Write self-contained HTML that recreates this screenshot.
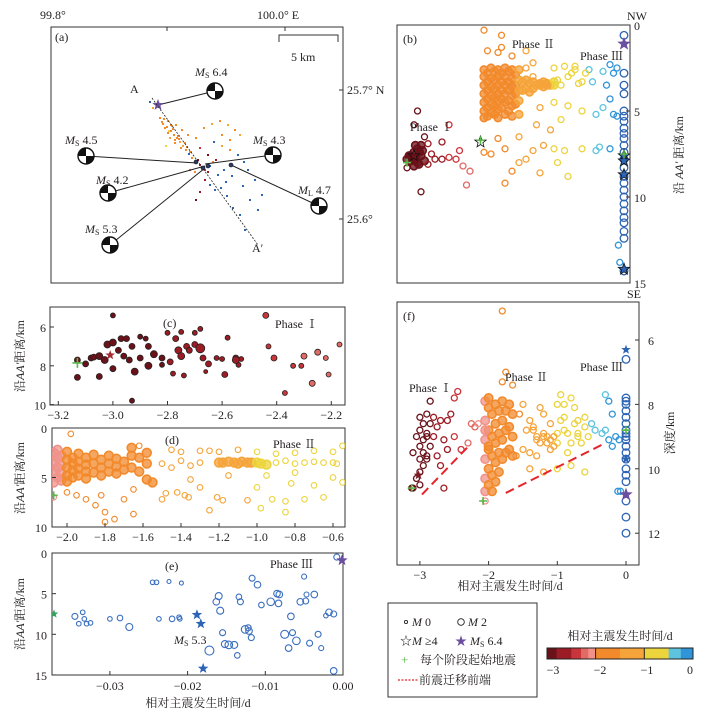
<!DOCTYPE html>
<html><head><meta charset="utf-8">
<style>
html,body{margin:0;padding:0;background:#fff;}
svg{display:block;font-family:"Liberation Serif","Noto Serif CJK SC","Noto Sans CJK SC",serif;}
text{fill:#231f20;}
</style></head>
<body>
<svg id="fig" width="709" height="713" viewBox="0 0 709 713" xmlns="http://www.w3.org/2000/svg">
  <rect x="51" y="27" width="292" height="256" fill="none" stroke="#333" stroke-width="1"/>
  <rect x="397" y="25" width="233" height="258" fill="none" stroke="#333" stroke-width="1"/>
  <rect x="50" y="307" width="295" height="98" fill="none" stroke="#333" stroke-width="1"/>
  <rect x="52" y="428" width="293" height="99" fill="none" stroke="#333" stroke-width="1"/>
  <rect x="52" y="553" width="291" height="122" fill="none" stroke="#333" stroke-width="1"/>
  <rect x="397" y="302" width="242" height="263" fill="none" stroke="#333" stroke-width="1"/>
  <g id="layer"></g>
  <text x="40" y="19" font-size="12">99.8°</text>
  <text x="257" y="19" font-size="12">100.0° E</text>
  <line x1="167" y1="27" x2="167" y2="31" stroke="#333"/>
  <line x1="285" y1="27" x2="285" y2="31" stroke="#333"/>
  <line x1="343" y1="90" x2="339" y2="90" stroke="#333"/>
  <line x1="343" y1="219" x2="339" y2="219" stroke="#333"/>
  <text x="347" y="94" font-size="12">25.7° N</text>
  <text x="347" y="223" font-size="12">25.6°</text>
  <text x="55" y="41" font-size="12">(a)</text>
  <path d="M279,42 V35 H338 V42" fill="none" stroke="#333"/>
  <text x="291" y="61" font-size="12">5 km</text>
  <text x="130" y="93" font-size="12">A</text>
  <text x="252" y="252" font-size="12">A′</text>
  <line x1="152" y1="98" x2="258" y2="245" stroke="#222" stroke-width="0.8" stroke-dasharray="2,1.5"/>
  <text x="195" y="76" font-size="12"><tspan font-style="italic">M</tspan><tspan font-size="8" dy="2">S</tspan><tspan dy="-2"> 6.4</tspan></text>
  <text x="65" y="144" font-size="12"><tspan font-style="italic">M</tspan><tspan font-size="8" dy="2">S</tspan><tspan dy="-2"> 4.5</tspan></text>
  <text x="253" y="144" font-size="12"><tspan font-style="italic">M</tspan><tspan font-size="8" dy="2">S</tspan><tspan dy="-2"> 4.3</tspan></text>
  <text x="96" y="184" font-size="12"><tspan font-style="italic">M</tspan><tspan font-size="8" dy="2">S</tspan><tspan dy="-2"> 4.2</tspan></text>
  <text x="85" y="233" font-size="12"><tspan font-style="italic">M</tspan><tspan font-size="8" dy="2">S</tspan><tspan dy="-2"> 5.3</tspan></text>
  <text x="298" y="194" font-size="12"><tspan font-style="italic">M</tspan><tspan font-size="8" dy="2">L</tspan><tspan dy="-2"> 4.7</tspan></text>

  <text x="403" y="43" font-size="12">(b)</text>
  <text x="512" y="48" font-size="12">Phase Ⅱ</text>
  <text x="580" y="60" font-size="12">Phase Ⅲ</text>
  <text x="410" y="131" font-size="12">Phase Ⅰ</text>
  <text x="627" y="20" font-size="12">NW</text>
  <text x="627" y="298" font-size="12">SE</text>
  <text transform="translate(683,155) rotate(-90)" text-anchor="middle" font-size="12">沿 <tspan font-style="italic">AA′</tspan> 距离/km</text>

  <text x="163" y="327" font-size="12">(c)</text>
  <text x="275" y="328" font-size="12">Phase Ⅰ</text>
  <text x="165" y="444" font-size="12">(d)</text>
  <text x="273" y="448" font-size="12">Phase Ⅱ</text>
  <text x="165" y="570" font-size="12">(e)</text>
  <text x="270" y="568" font-size="12">Phase Ⅲ</text>
  <text x="174" y="644" font-size="12"><tspan font-style="italic">M</tspan><tspan font-size="8" dy="2">S</tspan><tspan dy="-2"> 5.3</tspan></text>
  <text transform="translate(24,356) rotate(-90)" text-anchor="middle" font-size="12">沿<tspan font-style="italic">AA′</tspan>距离/km</text>
  <text transform="translate(24,478) rotate(-90)" text-anchor="middle" font-size="12">沿<tspan font-style="italic">AA′</tspan>距离/km</text>
  <text transform="translate(24,614) rotate(-90)" text-anchor="middle" font-size="12">沿<tspan font-style="italic">AA′</tspan>距离/km</text>
  <text x="198" y="707" text-anchor="middle" font-size="12">相对主震发生时间/d</text>

  <text x="403" y="320" font-size="12">(f)</text>
  <text x="409" y="392" font-size="12">Phase Ⅰ</text>
  <text x="505" y="381" font-size="12">Phase Ⅱ</text>
  <text x="580" y="371" font-size="12">Phase Ⅲ</text>
  <text transform="translate(674,433) rotate(-90)" text-anchor="middle" font-size="12">深度/km</text>
  <text x="510" y="590" text-anchor="middle" font-size="12">相对主震发生时间/d</text>

  <g>
    <rect x="388" y="603" width="149" height="94" fill="#fff" stroke="#333" stroke-width="1"/>
    <circle cx="406" cy="622" r="1.6" fill="none" stroke="#222" stroke-width="0.9"/>
    <text x="412" y="626" font-size="12" font-style="italic">M<tspan font-style="normal"> 0</tspan></text>
    <circle cx="461" cy="622" r="3.3" fill="none" stroke="#222" stroke-width="0.9"/>
    <text x="468" y="626" font-size="12" font-style="italic">M<tspan font-style="normal"> 2</tspan></text>
    <text x="400" y="645" font-size="12">☆<tspan font-style="italic">M</tspan> ≥4</text>
    <text x="455" y="645" font-size="12"><tspan fill="#6a4ea0" style="fill:#6a4ea0">★</tspan> <tspan font-style="italic">M</tspan><tspan font-size="8" dy="2">S</tspan><tspan dy="-2"> 6.4</tspan></text>
    <text x="401" y="664" font-size="13" style="fill:#5cb84a">+</text>
    <text x="420" y="664" font-size="12">每个阶段起始地震</text>
    <line x1="398" y1="680" x2="418" y2="680" stroke="#e8242b" stroke-width="1.2" stroke-dasharray="2,1.5"/>
    <text x="419" y="684" font-size="12">前震迁移前端</text>
  </g>
  <text x="620" y="640" text-anchor="middle" font-size="12">相对主震发生时间/d</text>
  <g id="cbar"></g>
  <text x="553" y="674" text-anchor="middle" font-size="12">−3</text>
  <text x="600" y="674" text-anchor="middle" font-size="12">−2</text>
  <text x="647" y="674" text-anchor="middle" font-size="12">−1</text>
  <text x="690" y="674" text-anchor="middle" font-size="12">0</text>
</svg>
<script>
// ---------- DATA ----------
const bTime = [-3.1,-3.05,-3.0,-2.95,-2.9,-2.85,-2.95,-3.0,-2.9,-2.8,-2.75,-2.7,-2.8,-2.85,-2.6,-2.5,-2.6,-2.4,-2.3,-2.2,-2.25,-2.35,-2.95,-3.0,-2.5,-3.1,-2.9,-3.05,-2.98,-2.92,-3.02,-2.97,-2.88,-2.93,-3.07,
 -2.0,-2.0,-2.0,-2.0,-2.0,-2.0,-2.0,-1.95,-1.95,-1.95,-1.95,-1.95,-1.95,-1.9,-1.9,-1.9,-1.9,-1.9,-1.9,-1.85,-1.85,-1.85,-1.85,-1.85,-1.85,-1.8,-1.8,-1.8,-1.8,-1.8,-1.8,-1.8,-1.75,-1.75,-1.75,-1.75,-1.75,-1.7,-1.7,-1.7,-1.7,-1.7,-1.7,-1.65,-1.65,-1.65,-1.65,-1.65,-1.6,-1.6,-1.6,-1.6,-1.6,-1.6,-1.55,-1.55,-1.55,-1.55,-1.5,-1.5,-1.5,-1.5,-1.5,
 -1.45,-1.45,-1.4,-1.4,-1.35,-1.35,-1.3,-1.3,-1.25,-1.2,-1.15,-1.1,-1.05,-1.0,
 -1.8,-1.75,-1.95,-1.6,-2.0,-1.75,-1.4,-1.4,-1.3,-1.2,-1.1,-1.0,-0.9,-0.8,-0.7,-0.6,-1.3,-1.0,-0.85,-1.2,-1.0,-0.8,-0.6,-1.5,-1.3,-1.15,-1.0,-0.85,-0.6,-0.4,-1.8,-1.9,-2.0,-1.7,-1.5,-1.6,-1.7,-1.4,-1.2,-0.95,-0.8,-1.25,-1.05,-0.9,-0.4,-1.15,-1.1,-0.95,-0.75,-0.5,-0.65,-0.55,-0.45,-0.7,
 -0.3,-0.25,-0.2,-0.15,-0.1,-0.3,-0.2,-0.35,-0.1,-0.15,-0.2,-0.08,-0.06,
 0,0,0,0,0,0,0,0,0,0,0,0,0,0,0,0,0,0,0,0,0,0,0,0,0];
const bDist = [7.8,7.6,7.4,7.2,7.6,7.9,8.0,8.2,7.0,6.9,7.5,7.8,8.1,6.5,7.8,7.7,6.8,7.8,8.2,8.5,9.3,7.3,5.0,5.8,5.8,8.3,9.7,7.9,7.0,7.4,7.7,7.8,7.3,8.1,7.6,
 2.6,3.0,3.5,4.0,4.5,5.0,5.4,2.8,3.3,3.8,4.3,4.8,5.3,2.5,3.1,3.6,4.1,4.6,5.1,2.7,3.2,3.7,4.2,4.7,5.2,2.6,3.0,3.5,4.0,4.4,4.9,5.4,2.8,3.3,3.8,4.3,4.8,2.5,3.0,3.5,4.0,4.5,5.2,2.7,3.3,3.8,4.4,5.0,2.6,3.1,3.6,4.1,4.7,5.3,2.9,3.5,4.0,4.6,2.6,3.2,3.8,4.4,5.2,
 3.3,3.8,3.2,3.7,3.4,3.9,3.3,3.7,3.5,3.4,3.6,3.4,3.5,3.5,
 1.6,1.3,1.5,1.8,0.3,0.6,1.5,2.5,3.0,3.5,3.4,3.3,3.5,3.0,2.4,3.3,2.2,2.5,2.4,4.8,4.5,4.7,5.0,6.5,7.3,7.0,7.2,7.3,7.2,7.3,6.6,7.5,7.4,7.2,8.0,8.5,9.2,7.8,8.6,8.0,8.8,5.8,6.1,5.5,5.2,3.3,3.5,3.2,2.8,2.6,3.4,2.8,3.3,2.6,
 4.8,3.5,2.3,2.8,2.5,2.7,7.2,7.1,5.3,5.2,4.3,12.8,13.8,
 0.6,2.8,3.5,4.0,5.0,5.3,5.6,6.0,6.3,6.6,7.0,7.4,7.8,8.3,8.8,9.2,9.6,10.0,10.4,10.8,11.2,11.5,12.0,12.4,14.3];
const bStarTime = [0,0,0,0,-3.0,-2.05];
const bStarDist = [7.6,7.9,8.7,14.2,7.6,6.8];
const bStartTime = [-3.1,-2.05,0];
const bStartDist = [8.0,6.7,7.5];
const mainTime = [0];
const mainDistB = [1.1];

const cTime = [-3.13,-3.13,-3.1,-3.08,-3.07,-3.05,-3.03,-3.05,-3.02,-3.0,-3.0,-3.0,-2.98,-2.97,-2.95,-2.96,-2.94,-2.93,-2.92,-2.9,-2.9,-2.88,-2.87,-2.87,-2.85,-2.82,-2.82,-2.8,-2.79,-2.78,-2.77,-2.76,-2.75,-2.75,-2.74,-2.73,-2.72,-2.7,-2.7,-2.68,-2.68,-2.67,-2.66,-2.65,-2.62,-2.6,-2.59,-2.58,-2.55,-2.54,-2.53,-2.55,-2.44,-2.43,-2.41,-2.37,-2.34,-2.31,-2.3,-2.27,-2.25,-2.22,-2.21,-2.17,-2.1,-2.93];
const cDist = [7.7,8.6,7.9,7.6,7.55,7.5,7.7,8.55,6.9,6.8,8.15,5.4,7.2,6.6,6.6,7.5,7.7,7.0,8.3,6.5,7.6,6.6,7.0,8.0,7.4,7.6,7.95,6.3,7.8,8.4,6.6,7.2,7.5,6.25,8.5,7.0,7.2,6.3,6.9,7.1,6.1,7.6,8.3,7.9,7.6,7.65,8.45,6.55,7.6,7.95,7.65,7.7,5.4,7.0,7.6,9.4,8.0,8.0,7.5,8.9,7.3,7.6,8.45,6.9,6.7,9.8];
const cSize = [3,3,3,3,3,3.5,3.5,3,3.5,3.5,3,2.5,3,3,3,3,3,3,3.5,2.5,3,2.5,3,3.5,3.5,3,2.5,2.5,3,2.5,3,3.5,3.5,2.5,2.5,3,3,2.5,3,4.5,2.5,3,2,3,2.5,2.5,3,2.5,3,2.5,2.5,3.5,3,2.5,3,2.5,2.5,2.5,3,3,3,2.5,2.5,2.5,2.5,2.5];

const dTime = [-2.07,-2.07,-2.07,-2.07,-2.05,-2.05,-2.05,-2.05,-2.03,-2.03,-2.03,-2.03,-2.0,-2.0,-2.0,-2.0,-2.0,-1.97,-1.97,-1.97,-1.97,-1.94,-1.94,-1.94,-1.94,-1.9,-1.9,-1.9,-1.9,-1.86,-1.86,-1.86,-1.82,-1.82,-1.82,-1.78,-1.78,-1.78,-1.74,-1.74,-1.74,-1.7,-1.7,-1.66,-1.66,-1.66,-1.62,-1.62,-1.62,-1.58,-1.58,-1.58,
 -1.5,-1.45,-1.4,-1.35,-1.3,-1.25,-1.2,-1.18,-1.15,-1.12,-1.1,-1.08,-1.05,-1.03,-1.0,-0.98,-0.95,-0.9,-0.85,-0.8,-0.75,-0.7,-0.65,-0.6,-0.58,-0.55,-1.45,-1.4,-1.3,-1.2,-1.1,-1.0,-0.9,-0.8,-0.7,-0.6,
 -2.07,-2.0,-1.95,-1.9,-1.85,-1.8,-1.75,-1.7,-1.65,-1.55,-1.5,-1.42,-1.38,-1.36,-1.25,-1.18,-1.05,-0.98,-0.92,-0.85,-0.82,-0.75,-0.65,-0.55,-1.82,-1.8,-1.65,-1.0,-1.21,-0.85,-0.7,-1.48,-1.35,-1.3,-1.15,-0.95,-0.8,-0.6,-1.98];
const dDist = [2.5,3.5,4.5,5.5,3.0,4.0,5.0,2.2,2.8,3.8,4.6,5.3,2.4,3.2,4.0,4.8,5.4,3.0,3.6,4.3,5.0,2.6,3.4,4.1,4.8,3.0,3.7,4.4,5.1,2.7,3.6,4.5,3.2,4.0,4.8,2.8,3.6,4.4,3.1,3.9,4.6,3.4,4.2,2.0,2.8,4.0,1.8,3.0,4.4,2.5,3.6,5.2,
 3.6,4.0,3.3,3.8,3.5,2.3,3.5,3.5,3.4,3.5,3.6,3.4,3.5,3.5,3.5,3.6,3.7,3.5,3.3,3.6,3.5,3.4,3.5,3.5,3.6,1.8,2.2,2.4,2.3,2.4,2.2,2.4,2.6,2.5,2.3,2.4,
 7.0,6.5,6.8,7.2,7.8,8.5,9.2,7.2,8.7,5.5,7.2,6.5,6.8,7.0,8.3,7.3,7.3,8.1,7.2,7.4,5.6,7.2,7.0,5.5,6.8,9.5,6.2,6.0,7.0,8.5,5.8,6.6,5.2,6.0,4.8,4.8,4.5,5.0,0.6];

const eTime = [-0.0345,-0.034,-0.0335,-0.033,-0.0325,-0.0333,-0.03,-0.0287,-0.0275,-0.0245,-0.024,-0.0237,-0.0224,-0.022,-0.0208,-0.0211,-0.021,-0.0172,-0.0163,-0.016,-0.0158,-0.0155,-0.0152,-0.0147,-0.014,-0.0136,-0.0134,-0.0132,-0.0126,-0.0122,-0.0121,-0.0118,-0.0117,-0.011,-0.0105,-0.0093,-0.0085,-0.0082,-0.0083,-0.0075,-0.007,-0.0067,-0.0065,-0.006,-0.0055,-0.005,-0.0048,-0.0047,-0.0043,-0.0037,-0.0032,-0.0028,-0.0022,-0.0018,-0.0012,-0.0012,-0.0008];
const eDist = [7.8,8.7,7.3,8.7,8.6,8.1,8.1,8.0,9.1,3.6,3.6,8.1,3.5,8.1,3.7,7.9,8.1,12.0,6.0,5.3,7.1,9.8,11.2,11.3,11.3,12.6,5.4,6.0,9.4,9.2,9.6,10.4,3.1,3.9,6.4,6.0,5.0,5.1,6.2,10.0,11.7,7.8,9.8,10.8,6.0,2.9,5.9,5.1,11.1,5.1,10.0,11.7,7.7,7.3,7.5,14.5,0.5];
const eSize = [3,2.3,2.3,2.3,2.3,2.3,2.3,2.8,3.5,2.3,2.3,2.3,2,2.8,2,2.3,2.3,4.5,3.3,3.5,3.5,3,3.5,3.8,3.5,2.8,2.8,3,3.8,3,3.3,3,3,3.3,2.8,3.8,3.3,3.3,3.3,4,3.3,3.3,3,3.8,3.3,2.5,3,2.5,3,3.3,3,2.5,2.3,3.3,3,3.3,3];
const eStarTime = [-0.0188,-0.0183,-0.018];
const eStarDist = [7.6,8.7,14.2];
const eMainDist = [0.9];

const fTime = [-3.12,-3.1,-3.05,-3.0,-2.95,-3.0,-2.95,-2.9,-3.0,-2.95,-2.9,-3.0,-2.95,-3.0,-2.9,-2.85,-2.8,-2.75,-2.7,-2.85,-2.8,-2.75,-2.7,-2.65,-2.6,-2.55,-2.5,-2.45,-2.4,-2.3,-2.25,-2.2,-2.15,-2.9,-2.9,-3.05,-3.1,-3.0,-2.65,-2.6,-2.5,-2.85,
 -2.05,-2.05,-2.05,-2.05,-2.05,-2.05,-2.0,-2.0,-2.0,-2.0,-2.0,-2.0,-1.95,-1.95,-1.95,-1.95,-1.95,-1.9,-1.9,-1.9,-1.9,-1.9,-1.85,-1.85,-1.85,-1.85,-1.8,-1.8,-1.8,-1.8,-1.75,-1.75,-1.75,-1.7,-1.7,-1.7,-1.65,-1.65,-1.65,-2.05,-2.0,
 -1.8,-1.75,-1.65,-1.8,-2.05,-1.5,-1.4,-1.3,-1.2,-1.1,-1.0,-1.2,-1.0,-0.9,-0.8,-0.7,-0.6,-0.55,-0.6,-0.9,-0.8,-1.3,-1.5,-1.4,-1.2,-1.0,-0.8,-1.6,-1.55,-1.25,-0.95,-0.75,-0.65,-1.1,-1.0,-0.85,-1.35,-1.15,-1.05,-0.9,-0.7,-1.45,
 -1.3,-1.25,-1.2,-1.15,-1.1,-1.05,-0.95,-0.85,-0.75,-0.7,-0.6,-1.4,-1.35,-0.5,-0.45,
 -0.3,-0.25,-0.2,-0.3,-0.25,-0.15,-0.1,-0.2,-0.08,-0.12,-0.35,
 0,0,0,0,0,0,0,0,0,0,0,0,0,0,0,0,0,0,0,0];
const fDepth = [10.6,10.6,10.3,10.1,9.9,9.7,9.5,9.7,9.3,9.1,9.0,8.8,8.6,8.4,8.3,8.6,8.4,8.7,8.5,9.3,9.0,9.6,9.9,10.6,8.5,8.3,7.8,7.6,9.4,9.2,8.6,8.7,8.6,8.9,9.6,9.0,9.5,10.5,9.1,9.4,9.0,7.9,
 7.9,8.5,9.1,9.7,10.3,10.7,8.1,8.8,9.4,10.0,10.5,7.8,8.3,9.0,9.6,10.2,10.7,8.0,8.6,9.2,9.8,10.4,8.2,8.9,9.5,10.1,7.9,8.5,9.1,9.7,8.2,8.8,9.5,8.0,8.7,9.4,8.3,9.0,9.6,8.8,9.3,
 5.1,7.0,7.4,7.3,11.0,8.0,8.5,9.0,9.0,9.4,9.2,8.3,8.0,8.0,7.8,8.5,8.7,9.0,10.1,8.8,9.2,9.6,9.4,10.0,10.1,10.0,9.9,9.6,8.3,8.1,7.7,8.1,9.2,8.6,8.9,9.5,8.7,9.2,9.0,8.4,8.9,8.8,
 9.1,9.2,8.9,9.0,9.1,9.3,8.5,8.9,8.6,9.0,8.4,9.5,8.8,8.6,8.8,
 7.7,7.9,8.3,8.8,9.1,9.0,9.1,9.3,10.7,10.7,8.9,
 6.6,7.8,7.9,8.0,8.2,8.4,8.6,8.8,8.9,9.0,9.1,9.3,9.5,9.7,10.0,10.2,10.4,11.0,11.5,12.0];
const fStarTime = [0,0,-3.02];
const fStarDepth = [6.3,9.7,10.2];
const fMainDepth = [10.8];
const fStartTime = [-3.12,-2.08,0];
const fStartDepth = [10.6,11.0,8.8];
const frontTime0 = [-2.97,-1.75];
const frontDepth0 = [10.8,10.75];
const frontTime1 = [-2.27,-0.3];
const frontDepth1 = [9.25,9.2];

const bYTicks = [0,5,10,15];
const fXTicks = [-3,-2,-1,0];
const fYTicks = [6,8,10,12];
const cXTicks = [-3.2,-3.0,-2.8,-2.6,-2.4,-2.2];
const cYTicks = [6,8,10];
const dXTicks = [-2.0,-1.8,-1.6,-1.4,-1.2,-1.0,-0.8,-0.6];
const dYTicks = [0,5,10];
const eXTicks = [-0.03,-0.02,-0.01,0.00];
const eYTicks = [0,5,10,15];
const cbarEdges = [-3,-2.8,-2.5,-2.3,-2.15,-2,-1.5,-1,-0.5,-0.25,0];

const mapX = [150,153,160,162,165,168,170,172,175,166,171,178,180,183,186,189,192,195,198,200,203,205,208,210,213,176,182,188,196,204,212,220,228,235,240,214,222,230,238,244,248,255,262,218,226,190,200,208,216,224,232,243,250,258,205,200,196,210,215,190,195,221,227,233,240,245,222,230,163,167,169,173,174,177,164,168,171,175,179,181,185,187,191];
const mapY = [102,108,118,122,128,133,138,126,140,146,131,136,142,146,150,154,158,162,160,165,168,170,172,166,162,125,130,135,138,128,124,121,125,130,135,142,146,150,155,162,170,180,195,175,182,152,148,155,160,170,176,186,200,210,180,192,200,185,190,170,172,188,196,208,215,230,135,140,124,127,131,129,135,138,119,121,125,143,139,148,143,147,152];
const mapT = [-0.01,-1.5,-1.8,-1.7,-1.6,-1.9,-1.2,-1.6,-1.8,-0.8,-1.7,-1.9,-1.5,-1.4,-1.7,-0.01,-1.8,-1.3,-2.9,-2.8,-0.02,-2.5,-2.7,-0.02,-1.6,-1.7,-1.8,-1.9,-1.6,-1.7,-1.5,-1.8,-1.4,-1.6,-1.3,-0.02,-1.2,-1.7,-0.02,-0.01,-0.02,-0.01,-0.02,-0.02,-0.01,-1.9,-2.5,-2.9,-2.7,-0.02,-0.01,-0.02,-0.01,-0.02,-2.8,-2.6,-2.9,-0.02,-0.01,-2.3,-1.8,-0.02,-0.02,-0.01,-0.02,-0.01,-1.6,-1.8,-1.9,-1.8,-0.8,-1.7,-1.9,-1.6,-1.8,-1.7,-1.9,-1.6,-1.8,-1.7,-1.9,-1.6,-1.8];

// ---------- RENDERING ----------
const NS = 'http://www.w3.org/2000/svg';
const layer = document.getElementById('layer');
function mk(tag, parent){ const el=document.createElementNS(NS,tag); (parent||layer).appendChild(el); return el; }

function tcolor(t){
  if (t < -2.8) return '#6b1119';
  if (t < -2.5) return '#9b1c24';
  if (t < -2.3) return '#c8353a';
  if (t < -2.15) return '#e26a64';
  if (t < -2.0) return '#f0928a';
  if (t < -1.5) return '#f28a2c';
  if (t < -1.0) return '#f5a43a';
  if (t < -0.5) return '#ecd43c';
  if (t < -0.25) return '#5ec3df';
  if (t < -0.03) return '#2f95d8';
  return '#2d64b4';
}

function starPath(cx, cy, R){
  let d=''; const r=R*0.42;
  for(let i=0;i<10;i++){ const a=-Math.PI/2+i*Math.PI/5; const rr=i%2?r:R; d+=(i?'L':'M')+(cx+rr*Math.cos(a)).toFixed(1)+','+(cy+rr*Math.sin(a)).toFixed(1); }
  return d+'Z';
}

const bx = t => 624 + t*70;
const by = d => 25 + d*17.2;
const fx = t => 626 + t*68.7;
const fy = z => 340 + (z-6)*32.2;
const cx = t => 58.3 + (t+3.2)*273;
const cy = d => 327 + (d-6)*19.4;
const dx = t => 67 + (t+2.0)*190;
const dy = d => 428 + d*9.9;
const ex = t => 343 + t*7770;
const ey = d => 553 + d*8.13;

const cbG = document.getElementById('cbar');
const cbx = v => 693 + v*48.7;
for (let i=0;i<cbarEdges.length-1;i++){
  const r = mk('rect', cbG);
  r.setAttribute('x', cbx(cbarEdges[i])); r.setAttribute('y', 648);
  r.setAttribute('width', cbx(cbarEdges[i+1])-cbx(cbarEdges[i])+0.3); r.setAttribute('height', 11);
  r.setAttribute('fill', tcolor((cbarEdges[i]+cbarEdges[i+1])/2));
  
  
}
const cbo = mk('rect', cbG); cbo.setAttribute('x',547); cbo.setAttribute('y',648); cbo.setAttribute('width',146); cbo.setAttribute('height',11); cbo.setAttribute('fill','none'); cbo.setAttribute('stroke','#222');


[-2,-1].forEach(v=>{ const l=mk('line',cbG); l.setAttribute('x1',cbx(v)); l.setAttribute('x2',cbx(v)); l.setAttribute('y1',648); l.setAttribute('y2',659); l.setAttribute('stroke','#222');
  
   });

function clipRect(id,x,y,w,h){
  const cp = mk('clipPath'); cp.setAttribute('id',id);
  const r = mk('rect',cp); r.setAttribute('x',x); r.setAttribute('y',y); r.setAttribute('width',w); r.setAttribute('height',h);
  return 'url(#'+id+')';
}
function circ(g,x,y,r,stroke,fill,sw){
  const c = mk('circle', g);
  c.setAttribute('cx', x.toFixed(1)); c.setAttribute('cy', y.toFixed(1)); c.setAttribute('r', r);
  c.setAttribute('fill', fill); c.setAttribute('stroke', stroke); c.setAttribute('stroke-width', sw);
  return c;
}
function star(g,x,y,R,fill,stroke){
  const p = mk('path', g); p.setAttribute('d', starPath(x,y,R)); p.setAttribute('fill',fill); p.setAttribute('stroke',stroke||'none'); p.setAttribute('stroke-width',0.8);
  return p;
}
function plus(g,x,y,s){
  const p = mk('path', g); p.setAttribute('d','M'+(x-s)+','+y+'H'+(x+s)+'M'+x+','+(y-s)+'V'+(y+s)); p.setAttribute('stroke','#5cb84a'); p.setAttribute('stroke-width',1.6);
  return p;
}
function tickText(x,y,txt,anchor,name){
  const t = mk('text'); t.setAttribute('x',x); t.setAttribute('y',y); t.setAttribute('font-size',12); t.setAttribute('text-anchor',anchor);
  t.textContent = txt;
  
  
  return t;
}
function tickLine(x1,y1,x2,y2){
  const l = mk('line'); l.setAttribute('x1',x1); l.setAttribute('y1',y1); l.setAttribute('x2',x2); l.setAttribute('y2',y2); l.setAttribute('stroke','#333');
  
  
}
function fmt(v,n){ return (v<0?'−':'')+Math.abs(v).toFixed(n); }

// ---- Panel a ----
const gA = mk('g'); gA.setAttribute('clip-path', clipRect('clipA',51,27,292,256));


for (let i=0;i<mapX.length;i++){
  const r = mk('rect', gA); r.setAttribute('x',mapX[i]-1); r.setAttribute('y',mapY[i]-1); r.setAttribute('width',2); r.setAttribute('height',2); r.setAttribute('fill',tcolor(mapT[i]));
  
  
}
const hub = [205,166];
const mechs = [[215,91,158,105,'mech-ms6-4'],[86,156,hub[0]-8,hub[1]-3,'mech-ms4-5'],[273,155,hub[0],hub[1]-2,'mech-ms4-3'],[108,193,hub[0],hub[1],'mech-ms4-2'],[110,245,hub[0],hub[1]+2,'mech-ms5-3'],[319,206,231,165,'mech-ml4-7']];
mechs.forEach(m=>{
  const l = mk('line'); l.setAttribute('x1',m[0]); l.setAttribute('y1',m[1]); l.setAttribute('x2',m[2]); l.setAttribute('y2',m[3]); l.setAttribute('stroke','#222'); l.setAttribute('stroke-width',1);
  
  
});
mechs.forEach(m=>{
  const g = mk('g');
  
  
  circ(g,m[0],m[1],8,'#111','#fff',1.4);
  const p = mk('path', g);
  const x=m[0], y=m[1], r=8;
  p.setAttribute('d', `M${x},${y} L${x-r},${y} A${r},${r} 0 0 1 ${x},${y-r} Z M${x},${y} L${x+r},${y} A${r},${r} 0 0 1 ${x},${y+r} Z`);
  p.setAttribute('fill','#111');
});
const s0 = star(layer,158,105,6,'#6a4ea0');  
[[196,162],[203,168],[208,166],[231,165]].forEach(p=>{ const c=circ(layer,p[0],p[1],2,'#111','#2d3b6a',0.6);
  
   });

// ---- Panel b ----
const gB = mk('g'); gB.setAttribute('clip-path', clipRect('clipB',397,25,233,258));


for (let i=0;i<bTime.length;i++){
  const col = tcolor(bTime[i]);
  const dense = (bTime[i]<=-1.5 && bTime[i]>=-2.0 && bDist[i]<5.6 && bDist[i]>2.3) || (bTime[i]>-1.5 && bTime[i]<=-1.0 && bDist[i]>3.1 && bDist[i]<4.0) || (bTime[i]<=-2.85 && bDist[i]>6.8 && bDist[i]<8.3);
  const c = circ(gB, bx(bTime[i]), by(bDist[i]), bTime[i]===0?3.8:(dense?3.8:3), col, dense?col:'none', dense?1.6:1.3);
  if (dense) c.setAttribute('fill-opacity', 0.75);
  
  
}
for (let i=0;i<bStarTime.length;i++){ const s=star(gB,bx(bStarTime[i]),by(bStarDist[i]),6,bStarTime[i]===0?'#2d64b4':'none','#111');
    }
const mb = star(gB,bx(mainTime[0]),by(mainDistB[0]),7,'#6a4ea0');  
for (let i=0;i<bStartTime.length;i++){ const p=plus(gB,bx(bStartTime[i]),by(bStartDist[i]),4);
    }
bYTicks.forEach(v=>{ tickLine(630,by(v),626,by(v)); tickText(634,by(v)+5,String(v),'start','b-y-tick'); });

// ---- Panel c ----
const gC = mk('g'); gC.setAttribute('clip-path', clipRect('clipC',50,307,295,98));


for (let i=0;i<cTime.length;i++){
  const c = circ(gC, cx(cTime[i]), cy(cDist[i]), cSize[i], '#222', tcolor(cTime[i]), 0.8);
  
  
}
const sc = star(gC,cx(-3.01),cy(7.45),5,'#a32a32');  
const pc = plus(gC,cx(-3.13),cy(7.85),5);  
cXTicks.forEach(v=>{ tickLine(cx(v),405,cx(v),401); tickText(cx(v),419,fmt(v,1),'middle','c-x-tick'); });
cYTicks.forEach(v=>{ tickLine(50,cy(v),54,cy(v)); tickText(46,cy(v)+5,String(v),'end','c-y-tick'); });

// ---- Panel d ----
const gD = mk('g'); gD.setAttribute('clip-path', clipRect('clipD',52,428,293,99));


for (let i=0;i<dTime.length;i++){
  const dense = (dTime[i]<=-1.55 && dDist[i]>1.9 && dDist[i]<5.6) || (dTime[i]>=-1.2 && dTime[i]<=-0.95 && Math.abs(dDist[i]-3.5)<0.25);
  const col = tcolor(dTime[i]);
  const c = circ(gD, dx(dTime[i]), dy(dDist[i]), dense?4.4:2.8, col, dense?col:'none', dense?1.6:1.1);
  if (dense) c.setAttribute('fill-opacity', 0.75);
  
  
}
const pd = plus(gD,dx(-2.07),dy(6.8),4);  
dXTicks.forEach(v=>{ tickLine(dx(v),527,dx(v),523); tickText(dx(v),541,fmt(v,1),'middle','d-x-tick'); });
dYTicks.forEach(v=>{ tickLine(52,dy(v),56,dy(v)); tickText(47,dy(v)+5,String(v),'end','d-y-tick'); });

// ---- Panel e ----
const gE = mk('g'); gE.setAttribute('clip-path', clipRect('clipE',52,553,291,122));


for (let i=0;i<eTime.length;i++){
  const c = circ(gE, ex(eTime[i]), ey(eDist[i]), eSize[i], '#3a6fc0', 'none', 1.1);
  
  
}
for (let i=0;i<eStarTime.length;i++){ const s=star(gE,ex(eStarTime[i]),ey(eStarDist[i]),5.5,'#2d64b4');
    }
const me = star(layer,ex(0)-1,ey(eMainDist[0]),6,'#6a4ea0');  
const ge = star(gE,ex(-0.0372),ey(7.5),4.5,'#3aa060');  
eXTicks.forEach(v=>{ tickLine(ex(v),675,ex(v),671); tickText(ex(v),690,fmt(v,2),'middle','e-x-tick'); });
eYTicks.forEach(v=>{ tickLine(52,ey(v),56,ey(v)); tickText(47,ey(v)+5,String(v),'end','e-y-tick'); });

// ---- Panel f ----
const gF = mk('g'); gF.setAttribute('clip-path', clipRect('clipF',397,302,242,263));


for (let i=0;i<fTime.length;i++){
  const dense = fTime[i]<=-1.65 && fTime[i]>=-2.05 && fDepth[i]>7.7 && fDepth[i]<10.8;
  const col = tcolor(fTime[i]);
  const c = circ(gF, fx(fTime[i]), fy(fDepth[i]), fTime[i]===0?3.8:(dense?4.2:3), col, dense?col:'none', dense?1.6:1.3);
  if (dense) c.setAttribute('fill-opacity', 0.75);
  
  
}
for (let i=0;i<frontTime0.length;i++){
  const l = mk('line', gF);
  l.setAttribute('x1',fx(frontTime0[i])); l.setAttribute('y1',fy(frontDepth0[i])); l.setAttribute('x2',fx(frontTime1[i])); l.setAttribute('y2',fy(frontDepth1[i]));
  l.setAttribute('stroke','#e8242b'); l.setAttribute('stroke-width',2); l.setAttribute('stroke-dasharray','9,5');
  
  
}
for (let i=0;i<fStarTime.length;i++){ const s=star(gF,fx(fStarTime[i]),fy(fStarDepth[i]),5,fStarTime[i]===0?'#2d64b4':'#7a1a22');
    }
const mf = star(gF,fx(0),fy(fMainDepth[0]),7,'#6a4ea0');  
for (let i=0;i<fStartTime.length;i++){ const p=plus(gF,fx(fStartTime[i]),fy(fStartDepth[i]),4);
    }
fXTicks.forEach(v=>{ tickLine(fx(v),565,fx(v),561); tickText(fx(v),579,fmt(v,0),'middle','f-x-tick'); });
fYTicks.forEach(v=>{ tickLine(639,fy(v),635,fy(v)); tickText(648,fy(v)+5,String(v),'start','f-y-tick'); });
</script>
</body></html>
